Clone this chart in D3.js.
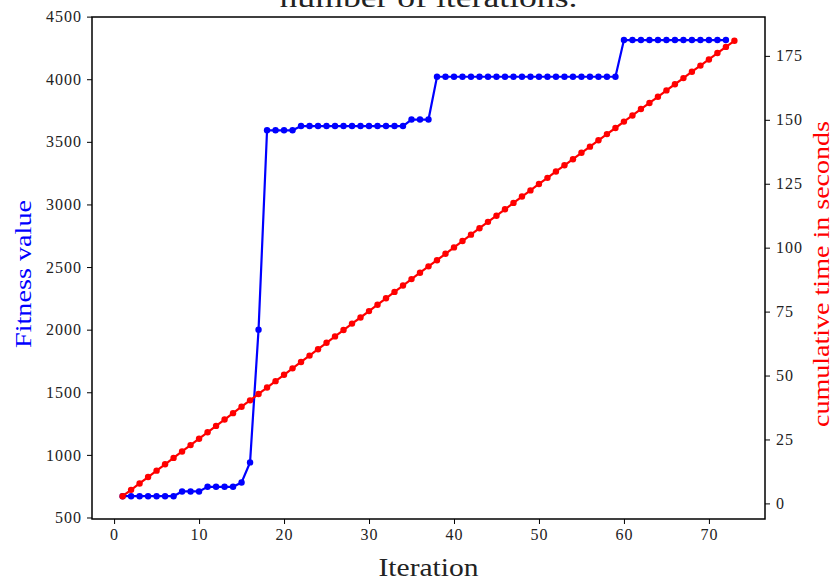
<!DOCTYPE html>
<html>
<head>
<meta charset="utf-8">
<script src="https://cdn.jsdelivr.net/npm/d3@7"></script>
<style>
  body { margin: 0; background: #fff; }
  svg text { font-family: "Liberation Serif", "DejaVu Serif", serif; fill: #222; }
</style>
</head>
<body>
<div id="chart"></div>
<script>
// fitness value per iteration (blue, left axis)
var fitness = [670, 670, 670, 670, 670, 670, 670,
    708, 708, 708,
    745, 745, 745, 745,
    780, 940, 2000,
    3592, 3592, 3592, 3592,
    3626, 3626, 3626, 3626, 3626, 3626, 3626, 3626, 3626, 3626, 3626, 3626, 3626,
    3678, 3678, 3678,
    4020, 4020, 4020, 4020, 4020, 4020, 4020, 4020, 4020, 4020, 4020,
    4020, 4020, 4020, 4020, 4020, 4020, 4020, 4020, 4020, 4020, 4020,
    4313, 4313, 4313, 4313, 4313, 4313, 4313, 4313, 4313, 4313, 4313, 4313, 4313];

// cumulative time in seconds per iteration (red, right axis)
var cumTime = [2.8, 5.3, 7.8, 10.3, 12.8, 15.3, 17.8, 20.3, 22.8, 25.3,
    27.8, 30.3, 32.8, 35.3, 37.8, 40.3, 42.8, 45.3, 47.8, 50.3,
    52.8, 55.3, 57.8, 60.3, 62.8, 65.3, 67.8, 70.3, 72.7, 75.2,
    77.7, 80.2, 82.7, 85.2, 87.7, 90.2, 92.7, 95.1, 97.6, 100.1,
    102.6, 105.1, 107.6, 110.1, 112.5, 115.0, 117.5, 120.0, 122.4, 124.9,
    127.3, 129.8, 132.2, 134.6, 137.1, 139.5, 142.0, 144.4, 146.8, 149.3,
    151.7, 154.2, 156.6, 159.0, 161.5, 163.9, 166.3, 168.8, 171.2, 173.6,
    176.1, 178.5, 180.9];

var xTicks = [0, 10, 20, 30, 40, 50, 60, 70];
var yLeftTicks = [500, 1000, 1500, 2000, 2500, 3000, 3500, 4000, 4500];
var yRightTicks = [0, 25, 50, 75, 100, 125, 150, 175];

var W = 834, H = 581;
var m = {left: 92, right: 69, top: 17, bottom: 62};
var iw = W - m.left - m.right, ih = H - m.top - m.bottom;

var svg = d3.select("#chart").append("svg")
    .attr("width", W).attr("height", H);

var g = svg.append("g").attr("transform", "translate(" + m.left + "," + m.top + ")");

var x = d3.scaleLinear().domain([-2.6, 76.6]).range([0, iw]);
var yL = d3.scaleLinear().domain([488, 4497]).range([ih, 0]);
var yR = d3.scaleLinear().domain([-6.1, 190.2]).range([ih, 0]);

// axes
function styleAxis(sel) {
    sel.selectAll(".domain").remove();
    sel.selectAll(".tick line").attr("stroke", "#000").attr("stroke-width", 1);
    sel.selectAll(".tick text")
        .style("font-size", "16px")
        .style("letter-spacing", "1px")
        .attr("fill", "#222");
}

g.append("g").attr("transform", "translate(0," + ih + ")")
    .call(d3.axisBottom(x).tickValues(xTicks).tickFormat(d3.format("d")).tickSize(5).tickPadding(5))
    .call(styleAxis);

g.append("g")
    .call(d3.axisLeft(yL).tickValues(yLeftTicks).tickFormat(d3.format("d")).tickSize(5).tickPadding(5))
    .call(styleAxis);

g.append("g").attr("transform", "translate(" + iw + ",0)")
    .call(d3.axisRight(yR).tickValues(yRightTicks).tickFormat(d3.format("d")).tickSize(5).tickPadding(6))
    .call(styleAxis);

// frame
g.append("rect")
    .attr("width", iw).attr("height", ih)
    .attr("fill", "none").attr("stroke", "#000").attr("stroke-width", 1.5);

// blue series
var blueData = fitness.map(function (v, i) { return [i + 1, v]; });
g.append("path").datum(blueData)
    .attr("fill", "none").attr("stroke", "#0000ff").attr("stroke-width", 2.2)
    .attr("d", d3.line().x(function (d) { return x(d[0]); }).y(function (d) { return yL(d[1]); }));
g.selectAll(".bdot").data(blueData).enter().append("circle")
    .attr("class", "bdot")
    .attr("cx", function (d) { return x(d[0]); })
    .attr("cy", function (d) { return yL(d[1]); })
    .attr("r", 3.2).attr("fill", "#0000ff");

// red series (twin axis, drawn on top)
var redData = cumTime.map(function (v, i) { return [i + 1, v]; });
g.append("path").datum(redData)
    .attr("fill", "none").attr("stroke", "#ff0000").attr("stroke-width", 2.2)
    .attr("d", d3.line().x(function (d) { return x(d[0]); }).y(function (d) { return yR(d[1]); }));
g.selectAll(".rdot").data(redData).enter().append("circle")
    .attr("class", "rdot")
    .attr("cx", function (d) { return x(d[0]); })
    .attr("cy", function (d) { return yR(d[1]); })
    .attr("r", 3.2).attr("fill", "#ff0000");

// labels (title is cut at the top edge, as in the original)
svg.append("text")
    .attr("x", m.left + iw / 2).attr("y", 7)
    .attr("text-anchor", "middle").style("font-size", "28px").attr("fill", "#222")
    .attr("textLength", 298).attr("lengthAdjust", "spacingAndGlyphs")
    .text("number of iterations.");

svg.append("text")
    .attr("x", m.left + iw / 2).attr("y", 576)
    .attr("text-anchor", "middle").style("font-size", "25px").attr("fill", "#222")
    .attr("textLength", 100).attr("lengthAdjust", "spacingAndGlyphs")
    .text("Iteration");

svg.append("text")
    .attr("transform", "translate(31,274) rotate(-90)")
    .attr("text-anchor", "middle").style("font-size", "23px").style("fill", "#0000ff")
    .attr("textLength", 148).attr("lengthAdjust", "spacingAndGlyphs")
    .text("Fitness value");

svg.append("text")
    .attr("transform", "translate(829,274) rotate(-90)")
    .attr("text-anchor", "middle").style("font-size", "23px").style("fill", "#ff0000")
    .attr("textLength", 306).attr("lengthAdjust", "spacingAndGlyphs")
    .text("cumulative time in seconds");
</script>
</body>
</html>
